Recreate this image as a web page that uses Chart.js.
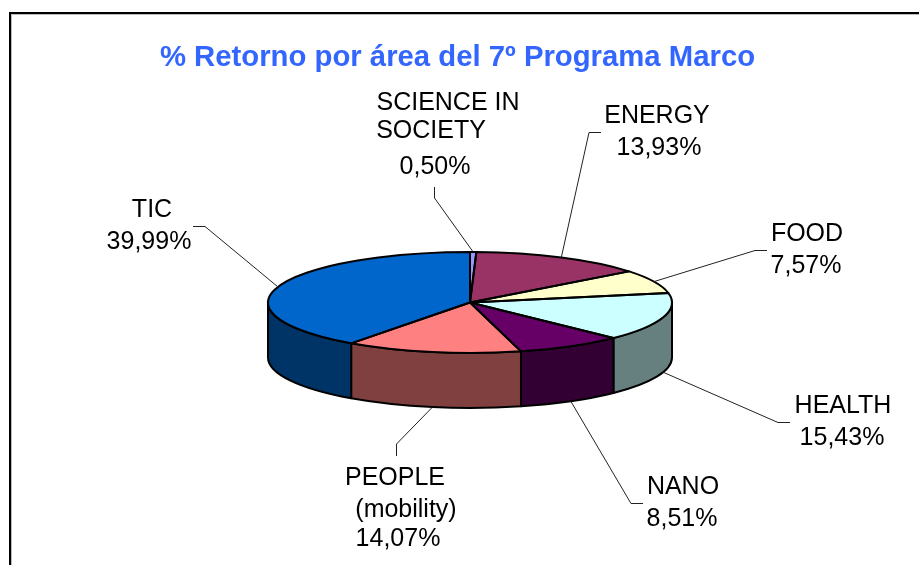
<!DOCTYPE html>
<html><head><meta charset="utf-8">
<style>
html,body{margin:0;padding:0;background:#fff;overflow:hidden;width:919px;height:565px}
#frame{position:absolute;left:9px;top:12px;width:920px;height:570px;border:2px solid #000;box-sizing:border-box;box-shadow:inset 1px 1px 0 #bbb}
#wrap{position:absolute;left:-2px;top:0;width:919px;height:565px}
</style>
<script src="https://cdn.jsdelivr.net/npm/chart.js@4"></script>
</head><body>
<div id="frame"></div>
<div id="wrap"><canvas id="c" width="919" height="565"></canvas></div>
<script>
const titleText = '% Retorno por área del 7º Programa Marco';
const categories = ['SCIENCE IN SOCIETY','ENERGY','FOOD','HEALTH','NANO','PEOPLE (mobility)','TIC'];
const values = [0.50,13.93,7.57,15.43,8.51,14.07,39.99];
const topColors = ['#9999FF','#993366','#FFFFCC','#CCFFFF','#660066','#FF8080','#0066CC'];
const sideColors = ['#666699','#662244','#808066','#668080','#330033','#804040','#003366'];

// label layout (page pixels): [text, centre x, baseline y]
const labelText = [
  [['SCIENCE IN',448,110],['SOCIETY',431,138],['0,50%',435,174]],
  [['ENERGY',657,123],['13,93%',659,155]],
  [['FOOD',807,241],['7,57%',806,273]],
  [['HEALTH',843,413],['15,43%',842,445]],
  [['NANO',683,494],['8,51%',682,526]],
  [['PEOPLE',395,485],['(mobility)',406,517],['14,07%',398,546]],
  [['TIC',152,217],['39,99%',149,249]]
];
// leader elbows (page pixels), from the label towards the pie
const leaderPoints = [
  [[434.5,187],[434.5,198]],
  [[601,132.5],[589,132.5]],
  [[767,250.5],[755,250.5]],
  [[790,422.5],[778,422.5]],
  [[643,503.5],[631,503.5]],
  [[396.5,456],[396.5,444]],
  [[193,226.5],[205,226.5]]
];
const PAGE_X = 470, PAGE_Y = 302.5, RX = 202, RY = 50.5, DEPTH = 55, WRAP_SHIFT = 2;

const pie3d = {
  id:'pie3d',
  beforeDatasetsDraw(chart){
    const ctx = chart.ctx, arcs = chart.getDatasetMeta(0).data;
    const {x:ox,y:oy} = arcs[0].getProps(['x','y'],true);
    const cx = PAGE_X+WRAP_SHIFT, cy = PAGE_Y;
    arcs.forEach((a,i)=>{
      const ranges = [[a.startAngle,a.endAngle],[a.startAngle-2*Math.PI,a.endAngle-2*Math.PI]];
      ranges.forEach(([s,e])=>{
        const p = Math.max(s,0), q = Math.min(e,Math.PI);
        if(q<=p) return;
        ctx.beginPath();
        ctx.ellipse(cx,cy,RX,RY,0,p,q);
        ctx.ellipse(cx,cy+DEPTH,RX,RY,0,q,p,true);
        ctx.closePath();
        ctx.fillStyle = sideColors[i];
        ctx.fill();
        ctx.lineWidth = 2; ctx.strokeStyle='#000'; ctx.lineJoin='round';
        ctx.stroke();
      });
    });
    ctx.save();
    ctx.translate(cx,cy);
    ctx.scale(1,RY/RX);
    ctx.translate(-ox,-oy);
  },
  afterDatasetsDraw(chart){
    const ctx = chart.ctx; ctx.restore();
    const arcs = chart.getDatasetMeta(0).data;
    const cx = PAGE_X+WRAP_SHIFT, cy = PAGE_Y;
    ctx.lineWidth = 2; ctx.strokeStyle='#000'; ctx.lineJoin='round';
    arcs.forEach(a=>{
      ctx.beginPath();
      ctx.moveTo(cx,cy);
      ctx.ellipse(cx,cy,RX,RY,0,a.startAngle,a.endAngle);
      ctx.closePath();
      ctx.stroke();
    });
    arcs.forEach((a,i)=>{
      const mid = (a.startAngle+a.endAngle)/2;
      const m = ((mid%(2*Math.PI))+2*Math.PI)%(2*Math.PI);
      const ax = cx+RX*Math.cos(m);
      const ay = cy+RY*Math.sin(m)+(m>0.1&&m<Math.PI?DEPTH:0);
      ctx.beginPath();
      leaderPoints[i].forEach((p,k)=>k?ctx.lineTo(p[0]+WRAP_SHIFT,p[1]):ctx.moveTo(p[0]+WRAP_SHIFT,p[1]));
      ctx.lineTo(ax,ay);
      ctx.lineWidth=1; ctx.strokeStyle='#222'; ctx.stroke();
      ctx.fillStyle='#000';
      ctx.font='25px "Liberation Sans", Arial, sans-serif';
      ctx.textAlign='center'; ctx.textBaseline='alphabetic';
      labelText[i].forEach(t=>ctx.fillText(t[0],t[1]+WRAP_SHIFT,t[2]));
    });
  }
};

new Chart(document.getElementById('c'),{
  type:'pie',
  data:{labels:categories,datasets:[{data:values,backgroundColor:topColors,borderWidth:0,radius:RX}]},
  options:{
    responsive:false,animation:false,
    plugins:{
      legend:{display:false},tooltip:{enabled:false},
      title:{display:true,text:titleText,color:'#3366FF',
        font:{family:'"Liberation Sans", Arial, sans-serif',size:29.3,weight:'bold'},
        padding:{top:40,bottom:0}}
    }
  },
  plugins:[pie3d]
});
</script>
</body></html>
